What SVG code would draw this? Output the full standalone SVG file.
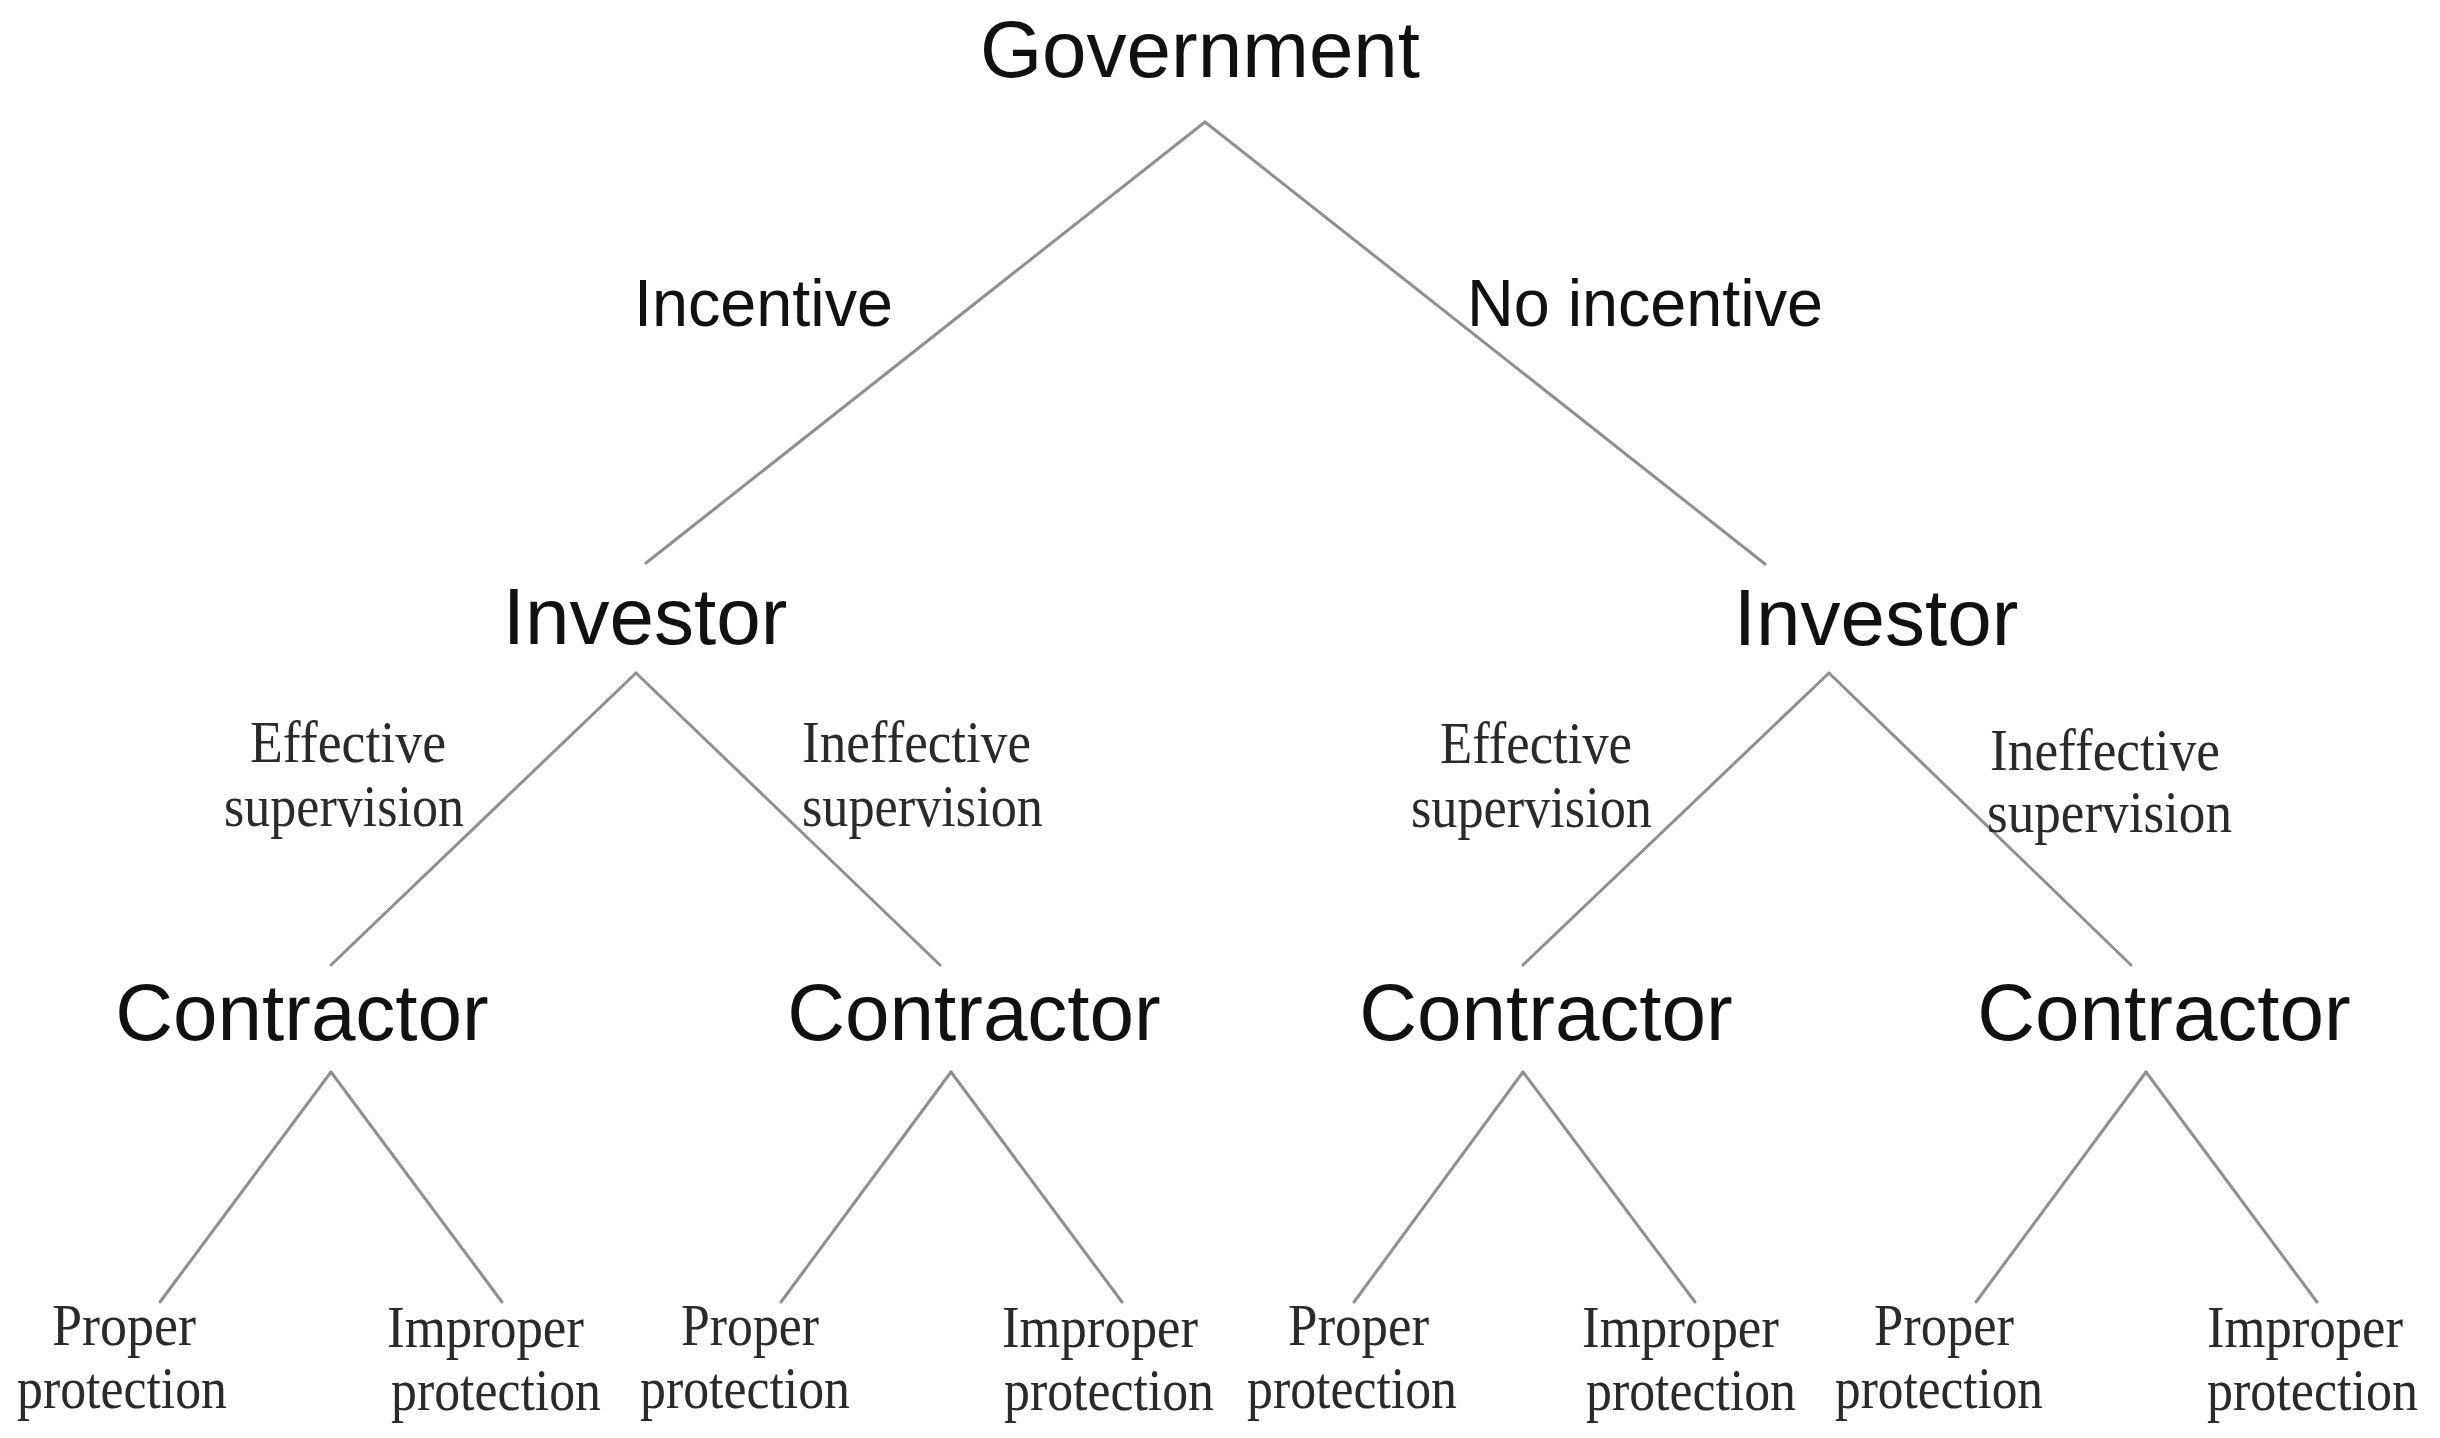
<svg xmlns="http://www.w3.org/2000/svg" width="2440" height="1438" viewBox="0 0 2440 1438">
<style>
.bg{fill:#ffffff}
.n{font-family:"Liberation Sans",Arial,sans-serif;font-size:80px;fill:#111111;text-anchor:middle}
.e{font-family:"Liberation Sans",Arial,sans-serif;font-size:66px;fill:#111111}
.s{font-family:"Liberation Serif","Times New Roman",serif;font-size:60px;fill:#2a2a2a}
.c line{stroke:#8f8f8f;stroke-width:3;stroke-linecap:round}
</style>
<rect class="bg" x="0" y="0" width="2440" height="1438"/>
<g id="connectors" class="c">
<line x1="1205" y1="122" x2="646" y2="563"/>
<line x1="1205" y1="122" x2="1765" y2="564"/>
<line x1="636" y1="673" x2="331" y2="965"/>
<line x1="636" y1="673" x2="940" y2="965"/>
<line x1="1829" y1="673" x2="1523" y2="965"/>
<line x1="1829" y1="673" x2="2131" y2="965"/>
<line x1="331" y1="1072" x2="160" y2="1302"/>
<line x1="331" y1="1072" x2="502" y2="1302"/>
<line x1="951" y1="1072" x2="781" y2="1302"/>
<line x1="951" y1="1072" x2="1122" y2="1302"/>
<line x1="1523" y1="1072" x2="1354" y2="1302"/>
<line x1="1523" y1="1072" x2="1695" y2="1302"/>
<line x1="2146" y1="1072" x2="1976" y2="1302"/>
<line x1="2146" y1="1072" x2="2317" y2="1302"/>
</g>
<g id="edge-labels">
<text class="e" x="634" y="326" textLength="259" lengthAdjust="spacingAndGlyphs">Incentive</text>
<text class="e" x="1467" y="326" textLength="356" lengthAdjust="spacingAndGlyphs">No incentive</text>
<text class="s" x="250" y="762" textLength="196" lengthAdjust="spacingAndGlyphs">Effective</text>
<text class="s" x="224" y="826" textLength="240" lengthAdjust="spacingAndGlyphs">supervision</text>
<text class="s" x="802" y="762" textLength="229" lengthAdjust="spacingAndGlyphs">Ineffective</text>
<text class="s" x="802" y="826" textLength="241" lengthAdjust="spacingAndGlyphs">supervision</text>
<text class="s" x="1440" y="763" textLength="192" lengthAdjust="spacingAndGlyphs">Effective</text>
<text class="s" x="1411" y="827" textLength="241" lengthAdjust="spacingAndGlyphs">supervision</text>
<text class="s" x="1990" y="770" textLength="230" lengthAdjust="spacingAndGlyphs">Ineffective</text>
<text class="s" x="1987" y="832" textLength="245" lengthAdjust="spacingAndGlyphs">supervision</text>
</g>
<g id="government"><text class="n" x="1200" y="77">Government</text></g>
<g id="investor-left"><text class="n" x="645" y="644">Investor</text></g>
<g id="investor-right"><text class="n" x="1876" y="645">Investor</text></g>
<g id="contractor-1"><text class="n" x="302" y="1040">Contractor</text></g>
<g id="contractor-2"><text class="n" x="974" y="1040">Contractor</text></g>
<g id="contractor-3"><text class="n" x="1546" y="1040">Contractor</text></g>
<g id="contractor-4"><text class="n" x="2164" y="1040">Contractor</text></g>
<g id="leaf-1"><text class="s" x="52" y="1345" textLength="144" lengthAdjust="spacingAndGlyphs">Proper</text><text class="s" x="17" y="1408" textLength="210" lengthAdjust="spacingAndGlyphs">protection</text></g>
<g id="leaf-2"><text class="s" x="387" y="1347" textLength="197" lengthAdjust="spacingAndGlyphs">Improper</text><text class="s" x="391" y="1410" textLength="210" lengthAdjust="spacingAndGlyphs">protection</text></g>
<g id="leaf-3"><text class="s" x="681" y="1345" textLength="138" lengthAdjust="spacingAndGlyphs">Proper</text><text class="s" x="640" y="1408" textLength="210" lengthAdjust="spacingAndGlyphs">protection</text></g>
<g id="leaf-4"><text class="s" x="1002" y="1347" textLength="196" lengthAdjust="spacingAndGlyphs">Improper</text><text class="s" x="1004" y="1410" textLength="210" lengthAdjust="spacingAndGlyphs">protection</text></g>
<g id="leaf-5"><text class="s" x="1288" y="1345" textLength="141" lengthAdjust="spacingAndGlyphs">Proper</text><text class="s" x="1247" y="1408" textLength="210" lengthAdjust="spacingAndGlyphs">protection</text></g>
<g id="leaf-6"><text class="s" x="1582" y="1347" textLength="197" lengthAdjust="spacingAndGlyphs">Improper</text><text class="s" x="1586" y="1410" textLength="210" lengthAdjust="spacingAndGlyphs">protection</text></g>
<g id="leaf-7"><text class="s" x="1874" y="1345" textLength="140" lengthAdjust="spacingAndGlyphs">Proper</text><text class="s" x="1835" y="1408" textLength="208" lengthAdjust="spacingAndGlyphs">protection</text></g>
<g id="leaf-8"><text class="s" x="2207" y="1347" textLength="196" lengthAdjust="spacingAndGlyphs">Improper</text><text class="s" x="2207" y="1410" textLength="211" lengthAdjust="spacingAndGlyphs">protection</text></g>
</svg>
